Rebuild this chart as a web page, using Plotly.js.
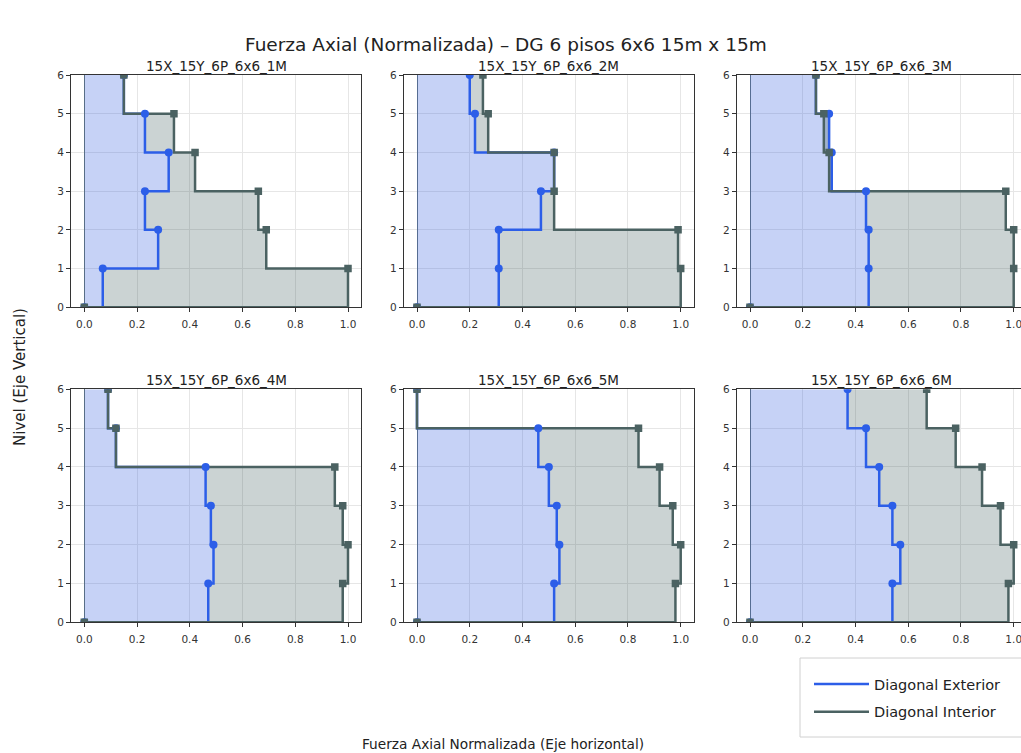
<!DOCTYPE html>
<html>
<head>
<meta charset="utf-8">
<script src="https://cdn.plot.ly/plotly-3.0.1.min.js"></script>
<style>
  html, body { margin: 0; padding: 0; overflow: hidden; background: #fff; }
  #chart { width: 1040px; height: 753px; }
</style>
</head>
<body>
<div id="chart"></div>
<script>
// ---- Data ----
const levels = [0, 1, 2, 3, 4, 5, 6];
const panelTitles = ['15X_15Y_6P_6x6_1M', '15X_15Y_6P_6x6_2M', '15X_15Y_6P_6x6_3M',
                     '15X_15Y_6P_6x6_4M', '15X_15Y_6P_6x6_5M', '15X_15Y_6P_6x6_6M'];
const seriesNames = ['Diagonal Exterior', 'Diagonal Interior'];
const xTickVals = [0, 0.2, 0.4, 0.6, 0.8, 1.0];
const yTickVals = [0, 1, 2, 3, 4, 5, 6];

const ext1M = [0, 0.07, 0.28, 0.23, 0.32, 0.23, 0.15];
const int1M = [0, 1.00, 0.69, 0.66, 0.42, 0.34, 0.15];
const ext2M = [0, 0.31, 0.31, 0.47, 0.52, 0.22, 0.20];
const int2M = [0, 1.00, 0.99, 0.52, 0.52, 0.27, 0.25];
const ext3M = [0, 0.45, 0.45, 0.44, 0.31, 0.30, 0.25];
const int3M = [0, 1.00, 1.00, 0.97, 0.30, 0.28, 0.25];
const ext4M = [0, 0.47, 0.49, 0.48, 0.46, 0.12, 0.09];
const int4M = [0, 0.98, 1.00, 0.98, 0.95, 0.12, 0.09];
const ext5M = [0, 0.52, 0.54, 0.53, 0.50, 0.46, 0.00];
const int5M = [0, 0.98, 1.00, 0.97, 0.92, 0.84, 0.00];
const ext6M = [0, 0.54, 0.57, 0.54, 0.49, 0.44, 0.37];
const int6M = [0, 0.98, 1.00, 0.95, 0.88, 0.78, 0.67];

const exteriorSets = [ext1M, ext2M, ext3M, ext4M, ext5M, ext6M];
const interiorSets = [int1M, int2M, int3M, int4M, int5M, int6M];

// ---- Styling / layout geometry ----
const W = 1040, H = 753;
const colZero = [84.3, 417, 750];   // pixel x of value 0 per column
const unitPx = 263.7;              // pixels per 1.0
const rowsPx = [[75, 307.3], [389.3, 622.3]]; // [top, bottom] pixel per row
const extLine = '#2c5ee8', intLine = '#4b6262';
const extFill = 'rgba(65,105,225,0.30)', intFill = 'rgba(47,79,79,0.25)';
const FONT = 'DejaVu Sans';

const traces = [];
const layout = {
  width: W, height: H,
  margin: {l: 0, r: 0, t: 0, b: 0},
  paper_bgcolor: '#fff', plot_bgcolor: '#fff',
  font: {family: FONT, color: '#222'},
  showlegend: true,
  legend: {
    x: 809 / W, y: 1 - 668 / H, xanchor: 'left', yanchor: 'top',
    bgcolor: 'rgba(0,0,0,0)', borderwidth: 0, itemwidth: 55,
    font: {family: FONT, size: 14.5, color: '#222'},
    traceorder: 'grouped', tracegroupgap: 6
  },
  annotations: [],
  shapes: [{
    type: 'rect', xref: 'paper', yref: 'paper', layer: 'below',
    x0: 800 / W, x1: 1036 / W, y0: 1 - 737 / H, y1: 1 - 658 / H,
    line: {color: '#d0d0d0', width: 1}, fillcolor: '#fff'
  }]
};

for (let p = 0; p < 6; p++) {
  const r = Math.floor(p / 3), c = p % 3;
  const n = p + 1;
  const xa = 'xaxis' + (n === 1 ? '' : n), ya = 'yaxis' + (n === 1 ? '' : n);
  const xr = 'x' + (n === 1 ? '' : n), yr = 'y' + (n === 1 ? '' : n);
  const left = colZero[c] - 0.05 * unitPx, right = colZero[c] + 1.05 * unitPx;
  const top = rowsPx[r][0], bottom = rowsPx[r][1];

  layout[xa] = {
    domain: [left / W, right / W], anchor: yr,
    range: [-0.05, 1.05], tickvals: xTickVals, tickformat: '.1f',
    showgrid: true, gridcolor: '#e6e6e6', gridwidth: 1,
    zeroline: true, zerolinecolor: '#5f6f70', zerolinewidth: 1,
    showline: true, mirror: true, linecolor: '#333', linewidth: 1,
    ticks: 'outside', ticklen: 4, tickcolor: '#333', ticklabelstandoff: 3,
    tickfont: {family: FONT, size: 10.5, color: '#333'}, fixedrange: true
  };
  layout[ya] = {
    domain: [1 - bottom / H, 1 - top / H], anchor: xr,
    range: [0, 6], tickvals: yTickVals,
    showgrid: true, gridcolor: '#e6e6e6', gridwidth: 1,
    zeroline: false,
    showline: true, mirror: true, linecolor: '#333', linewidth: 1,
    ticks: 'outside', ticklen: 4, tickcolor: '#333',
    tickfont: {family: FONT, size: 10.5, color: '#333'}, fixedrange: true
  };
  layout.annotations.push({
    xref: 'paper', yref: 'paper', x: (left + right) / 2 / W, y: 1 - (top - 9) / H,
    xanchor: 'center', yanchor: 'middle', showarrow: false,
    text: panelTitles[p], font: {family: FONT, size: 13.5, color: '#222'}
  });

  const ext = exteriorSets[p], inn = interiorSets[p];
  // fills
  traces.push({
    type: 'scatter', mode: 'none', x: ext, y: levels, xaxis: xr, yaxis: yr,
    line: {shape: 'hv', width: 0},
    fill: 'tozerox', fillcolor: extFill, showlegend: false, hoverinfo: 'skip'
  });
  traces.push({
    type: 'scatter', mode: 'none', x: inn, y: levels, xaxis: xr, yaxis: yr,
    line: {shape: 'hv', width: 0},
    fill: 'tonextx', fillcolor: intFill, showlegend: false, hoverinfo: 'skip'
  });
  // step lines
  traces.push({
    type: 'scatter', mode: 'lines', x: ext, y: levels, xaxis: xr, yaxis: yr,
    line: {color: extLine, width: 2.5, shape: 'hv'},
    name: seriesNames[0], legendgroup: 'ext', showlegend: p === 0, hoverinfo: 'skip'
  });
  traces.push({
    type: 'scatter', mode: 'lines', x: inn, y: levels, xaxis: xr, yaxis: yr,
    line: {color: intLine, width: 2.5, shape: 'hv'},
    name: seriesNames[1], legendgroup: 'int', showlegend: p === 0, hoverinfo: 'skip'
  });
  // markers
  traces.push({
    type: 'scatter', mode: 'markers', x: ext, y: levels, xaxis: xr, yaxis: yr,
    marker: {symbol: 'circle', size: 8, color: extLine},
    showlegend: false, hoverinfo: 'skip'
  });
  traces.push({
    type: 'scatter', mode: 'markers', x: inn, y: levels, xaxis: xr, yaxis: yr,
    marker: {symbol: 'square', size: 7.5, color: intLine},
    showlegend: false, hoverinfo: 'skip'
  });
}

// figure-level texts
layout.annotations.push({
  xref: 'paper', yref: 'paper', x: 506 / W, y: 1 - 45 / H, xanchor: 'center', yanchor: 'middle',
  showarrow: false, text: 'Fuerza Axial (Normalizada) – DG 6 pisos 6x6 15m x 15m',
  font: {family: FONT, size: 18.5, color: '#222'}
});
layout.annotations.push({
  xref: 'paper', yref: 'paper', x: 503 / W, y: 1 - 744 / H, xanchor: 'center', yanchor: 'middle',
  showarrow: false, text: 'Fuerza Axial Normalizada (Eje horizontal)',
  font: {family: FONT, size: 13.7, color: '#222'}
});
layout.annotations.push({
  xref: 'paper', yref: 'paper', x: 20 / W, y: 1 - 377 / H, xanchor: 'center', yanchor: 'middle',
  showarrow: false, textangle: -90, text: 'Nivel (Eje Vertical)',
  font: {family: FONT, size: 15, color: '#222'}
});

Plotly.newPlot('chart', traces, layout, {staticPlot: true, displayModeBar: false});
</script>
</body>
</html>
